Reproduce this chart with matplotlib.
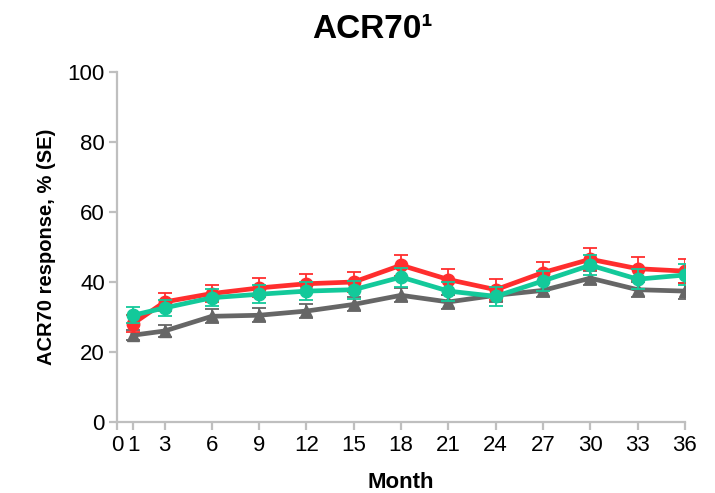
import matplotlib
matplotlib.use("Agg")
import matplotlib.pyplot as plt

plt.rcParams['font.family'] = ['Liberation Sans', 'DejaVu Sans']

months = [1, 3, 6, 9, 12, 15, 18, 21, 24, 27, 30, 33, 36]
xticks = [0, 1, 3, 6, 9, 12, 15, 18, 21, 24, 27, 30, 33, 36]

red_vals = [28.1, 34.3, 36.7, 38.3, 39.5, 40.0, 44.8, 40.7, 37.8, 42.7, 46.5, 43.8, 43.1]
red_se = [2.5, 2.5, 2.5, 2.7, 2.7, 2.8, 3.0, 3.0, 3.0, 3.0, 3.2, 3.2, 3.5]
green_vals = [30.5, 32.6, 35.5, 36.5, 37.4, 37.8, 41.4, 37.4, 35.9, 40.3, 44.8, 40.8, 42.0]
green_se = [2.3, 2.3, 2.5, 2.5, 2.6, 2.6, 2.7, 2.7, 2.7, 2.8, 2.8, 2.9, 3.0]
gray_vals = [24.8, 26.0, 30.2, 30.5, 31.7, 33.6, 36.2, 34.3, 36.2, 37.6, 41.1, 37.8, 37.4]
gray_se = [1.5, 1.8, 2.0, 2.0, 2.0, 2.0, 2.0, 2.0, 2.0, 2.0, 2.0, 2.2, 2.2]

fig = plt.figure(figsize=(7.15, 4.93), dpi=100)
ax = fig.add_axes([0.164, 0.144, 0.794, 0.71])

series = [
    (gray_vals, gray_se, '#666666', '^', 9, 2),
    (red_vals, red_se, '#FF2E2E', 'o', 9, 3),
    (green_vals, green_se, '#13C99A', 'o', 9, 4),
]
for vals, se, col, mk, ms, z in series:
    ax.errorbar(months, vals, yerr=se, color=col, marker=mk, markersize=ms,
                linewidth=3.4, elinewidth=1.3, capsize=5, capthick=1.3, zorder=z)

ax.set_xlim(0, 36)
ax.set_ylim(0, 100)
ax.set_xticks(xticks)
ax.set_yticks(range(0, 101, 20))

for side in ['top', 'right']:
    ax.spines[side].set_visible(False)
for side in ['left', 'bottom']:
    ax.spines[side].set_color('#BFBFBF')
    ax.spines[side].set_linewidth(1.6)
ax.tick_params(colors='#BFBFBF', labelcolor='black', labelsize=16, width=1.6, length=6)
ax.tick_params(axis='x', pad=3)
ax.tick_params(axis='y', pad=3)

ax.set_ylabel('ACR70 response, % (SE)', fontsize=14.5, fontweight='bold', labelpad=8)
ax.set_xlabel('Month', fontsize=16, fontweight='bold', labelpad=12)
fig.text(372 / 715, 1 - 30 / 493, 'ACR70\u00b9', fontsize=24, fontweight='bold',
         ha='center', va='center')

fig.savefig('out.png', dpi=100)
